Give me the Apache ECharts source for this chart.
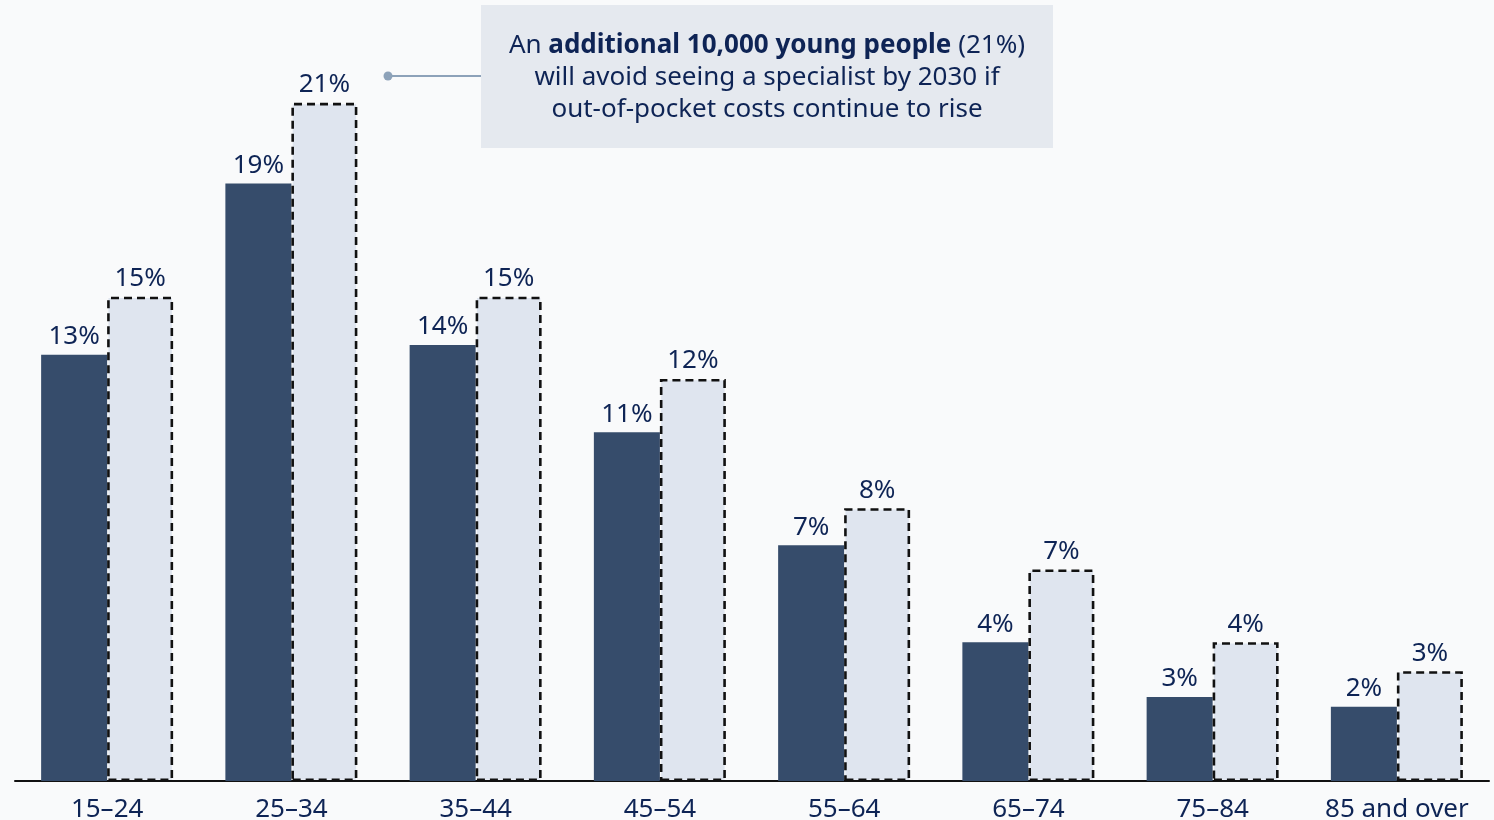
<!DOCTYPE html>
<html>
<head>
<meta charset="utf-8">
<script src="https://cdn.jsdelivr.net/npm/echarts@6/dist/echarts.min.js"></script>
<style>
html,body{margin:0;padding:0;background:#f9fafb;}
#chart{width:1494px;height:820px;}
</style>
</head>
<body>
<div id="chart"></div>
<script>
const categories = ['15–24','25–34','35–44','45–54','55–64','65–74','75–84','85 and over'];
const currentValues = [13.2, 18.5, 13.5, 10.8, 7.3, 4.3, 2.6, 2.3];
const projectedValues = [15.0, 21.0, 15.0, 12.45, 8.45, 6.55, 4.3, 3.4];

const FONT = '"Noto Sans", sans-serif';
const NAVY = '#0e2455';

const chart = echarts.init(document.getElementById('chart'), null, {renderer:'canvas'});
const labelCfg = {
  show: true,
  position: 'top',
  distance: 5,
  fontFamily: FONT,
  fontSize: 26,
  color: NAVY,
  formatter: p => Math.round(p.value) + '%'
};
chart.setOption({
  backgroundColor: '#f9fafb',
  animation: false,
  grid: {left: 15, right: 5, top: 6, bottom: 39, containLabel: false, outerBoundsMode: 'none'},
  xAxis: {
    type: 'category',
    data: categories,
    axisLine: {show: true, lineStyle: {color: '#111111', width: 2}},
    axisTick: {show: false},
    axisLabel: {fontFamily: FONT, fontSize: 26, color: NAVY, margin: 16, interval: 0}
  },
  yAxis: {
    type: 'value',
    min: 0, max: 24,
    show: false,
    splitLine: {show: false}
  },
  series: [
    {
      type: 'bar',
      name: 'Current',
      data: currentValues,
      barWidth: 66,
      barGap: '0%',
      itemStyle: {color: '#364c6b'},
      label: labelCfg,
      z: 2
    },
    {
      type: 'bar',
      name: '2030',
      data: projectedValues,
      barWidth: 66,
      barGap: '0%',
      itemStyle: {color: '#dfe5ef', borderColor: '#111111', borderWidth: 2.6, borderType: [8, 5]},
      label: labelCfg,
      z: 3
    }
  ],
  graphic: [
    {type: 'rect', shape: {x: 481, y: 5, width: 572, height: 143}, style: {fill: '#e5e9ef'}, z: 10},
    {type: 'line', shape: {x1: 388, y1: 76, x2: 481, y2: 76}, style: {stroke: '#8da2b9', lineWidth: 2}, z: 10},
    {type: 'circle', shape: {cx: 388, cy: 76, r: 4.5}, style: {fill: '#8da2b9'}, z: 10},
    {
      type: 'text', x: 767, y: 78, z: 11,
      style: {
        text: 'An {b|additional 10,000 young people} (21%)\nwill avoid seeing a specialist by 2030 if\nout-of-pocket costs continue to rise',
        align: 'center', verticalAlign: 'middle',
        fontFamily: FONT, fontSize: 26, lineHeight: 32, fill: NAVY,
        rich: {b: {fontFamily: FONT, fontSize: 26, fontWeight: 'bold', fill: NAVY, lineHeight: 32}}
      }
    }
  ]
});
</script>
</body>
</html>
